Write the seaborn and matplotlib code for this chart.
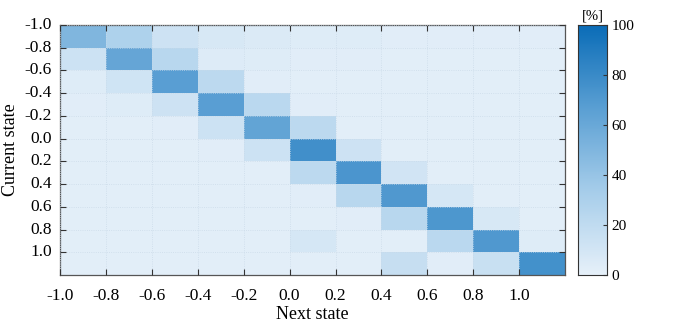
import numpy as np
import pandas as pd
import matplotlib
matplotlib.use("Agg")
from matplotlib import pyplot as plt
from matplotlib.colors import LinearSegmentedColormap
import seaborn as sns

states = ["-1.0", "-0.8", "-0.6", "-0.4", "-0.2", "0.0", "0.2", "0.4", "0.6", "0.8", "1.0"]

# transition probabilities [%], rows = current state, cols = next state
row_m10 = [50, 29, 13, 8, 6, 4, 4, 3, 3, 3, 3]
row_m08 = [14, 62, 24, 5, 4, 3, 3, 2, 2, 2, 2]
row_m06 = [4, 12, 67, 22, 3, 2, 2, 2, 2, 2, 2]
row_m04 = [3, 4, 13, 67, 23, 3, 2, 2, 2, 2, 2]
row_m02 = [2, 2, 3, 14, 63, 22, 2, 2, 2, 2, 2]
row_00 = [2, 2, 2, 3, 14, 77, 13, 2, 2, 2, 2]
row_02 = [2, 2, 2, 2, 2, 22, 73, 11, 2, 2, 2]
row_04 = [2, 2, 2, 2, 2, 3, 24, 71, 9, 2, 2]
row_06 = [2, 2, 2, 2, 2, 2, 3, 24, 72, 8, 2]
row_08 = [2, 2, 2, 2, 2, 9, 2, 2, 23, 71, 4]
row_10 = [2, 2, 2, 2, 2, 2, 2, 17, 3, 16, 76]

matrix = pd.DataFrame(
    [row_m10, row_m08, row_m06, row_m04, row_m02, row_00,
     row_02, row_04, row_06, row_08, row_10],
    index=states, columns=states)

plt.rcParams["font.family"] = ["Liberation Serif", "DejaVu Serif"]

cmap = LinearSegmentedColormap.from_list(
    "blues_m", ["#e6f0f9", "#a6cdea", "#5a9fd3", "#0a6cb7"])

fig = plt.figure(figsize=(6.78, 3.24), dpi=100)
ax = fig.add_axes([0.0885, 0.151, 0.745, 0.772])
cax = fig.add_axes([0.8525, 0.151, 0.0428, 0.772])

sns.heatmap(matrix, ax=ax, cbar_ax=cax, cmap=cmap, vmin=0, vmax=100,
            linewidths=0)

n = len(states)
ax.set_xticks(np.arange(n))
ax.set_xticklabels(states, rotation=0, fontsize=12.5)
ax.set_yticks(np.arange(n))
ax.set_yticklabels(states, rotation=0, fontsize=12.5)
ax.tick_params(direction="in", length=4, top=True, right=True,
               color="#333333")
ax.tick_params(axis="x", pad=9)
ax.tick_params(axis="y", pad=6)
ax.set_axisbelow(False)
ax.grid(True, linestyle=":", linewidth=0.6, color="#c9d9e8", alpha=0.9)
for s in ax.spines.values():
    s.set_visible(True)
    s.set_color("#555555")
    s.set_linewidth(0.9)

ax.set_xlabel("Next state", fontsize=13, labelpad=2)
ax.set_ylabel("Current state", fontsize=13, labelpad=4)

cax.tick_params(direction="in", length=3, labelsize=11, color="#333333")
cax.set_yticks([0, 20, 40, 60, 80, 100])
for s in cax.spines.values():
    s.set_visible(True)
    s.set_color("#333333")
cax.set_title("[%]", fontsize=10.5, pad=4)

fig.savefig("out.png", dpi=100)
